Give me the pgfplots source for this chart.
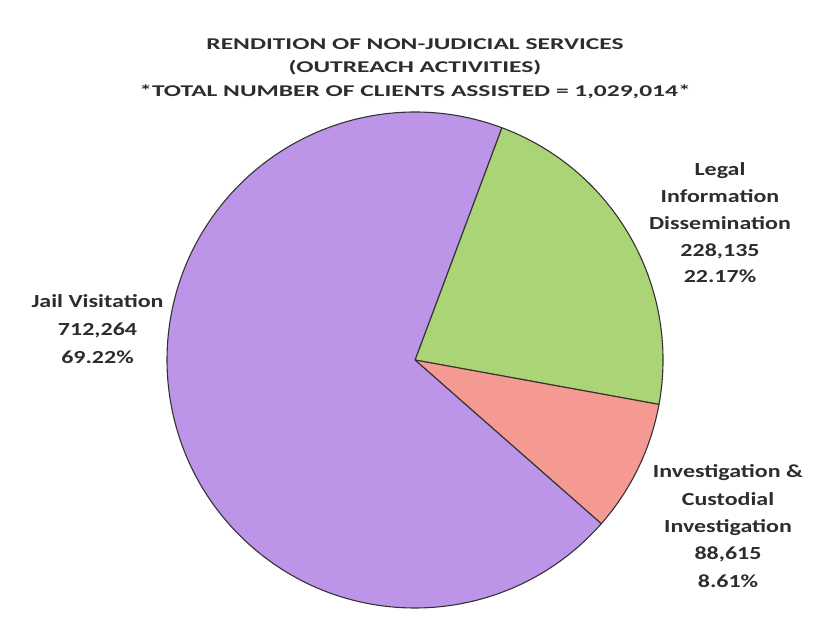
\documentclass[border=0pt]{standalone}
\usepackage{pgfplots}
\pgfplotsset{compat=1.18}
\usepackage{pgfplotstable}
\usepackage{fontspec}
\setmainfont{Carlito}

\definecolor{pieGreen}{RGB}{170,212,118}
\definecolor{piePink}{RGB}{245,154,146}
\definecolor{piePurple}{RGB}{188,148,232}
\definecolor{txt}{RGB}{45,45,45}

% slices in clockwise order from the top edge of the green slice
\pgfplotstableread{
value  color
228135 pieGreen
88615  piePink
712264 piePurple
}\piedata

\begin{document}
\begin{tikzpicture}
\begin{axis}[x=1bp, y=1bp, scale only axis,
    xmin=0, xmax=813, ymin=0, ymax=609,
    hide axis, clip=false]
\pgfplotsextra{%
  \xdef\cur{69.5}%
  \foreach \r in {0,1,2}{%
    \pgfplotstablegetelem{\r}{value}\of\piedata \let\v\pgfplotsretval
    \pgfplotstablegetelem{\r}{color}\of\piedata \let\c\pgfplotsretval
    \xdef\nxt{\fpeval{\cur - 360*\v/1029014}}%
    \filldraw[fill=\c, draw=black!80, line width=1.1bp, line join=round]
      (axis cs:415,249) -- ++(\cur:248bp)
      arc[start angle=\cur, end angle=\nxt, radius=248bp] -- cycle;
    \xdef\cur{\nxt}%
  }%
}
\path (axis cs:0,0) (axis cs:813,609);
\node[font=\bfseries\fontsize{16.5}{23.5}\selectfont, text=txt, align=center, anchor=center, xscale=1.55]
  at (axis cs:415,540.5) {RENDITION OF NON-JUDICIAL SERVICES\\(OUTREACH ACTIVITIES)\\*TOTAL NUMBER OF CLIENTS ASSISTED = 1,029,014*};
\node[font=\bfseries\fontsize{18.5}{26.8}\selectfont, text=txt, align=center, anchor=center, xscale=1.3]
  at (axis cs:720,386) {Legal\\Information\\Dissemination\\228,135\\22.17\%};
\node[font=\bfseries\fontsize{18.5}{28}\selectfont, text=txt, align=center, anchor=center, xscale=1.3]
  at (axis cs:97.5,280) {Jail Visitation\\712,264\\69.22\%};
\node[font=\bfseries\fontsize{18.5}{27.5}\selectfont, text=txt, align=center, anchor=center, xscale=1.3]
  at (axis cs:728,83) {Investigation \&\\Custodial\\Investigation\\88,615\\8.61\%};
\end{axis}
\end{tikzpicture}
\end{document}
